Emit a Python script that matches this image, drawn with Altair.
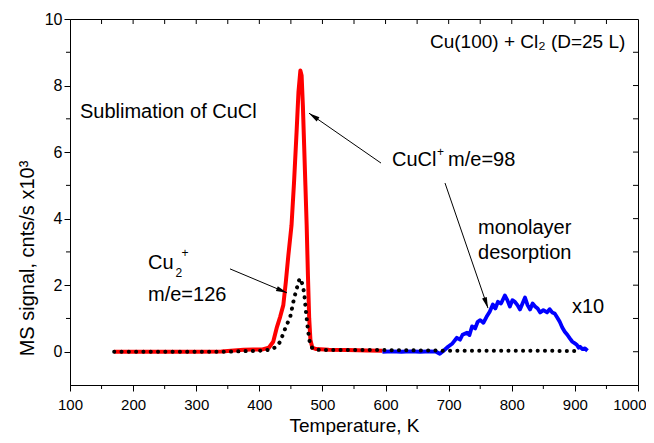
import math
import altair as alt
import pandas as pd

# ---------------- data ----------------
# CuCl+ m/e=98 (red)
red_T = [170, 200, 250, 300, 340, 360, 375, 390, 405, 415,
         422, 428, 433, 438, 442, 446, 451, 455, 459, 462,
         465, 467, 469, 471, 473, 475, 477, 479, 481, 484,
         490, 510, 540, 570, 595]
red_v = [0.0, 0.0, 0.0, 0.0, 0.01, 0.04, 0.06, 0.07, 0.07, 0.12,
         0.3, 0.75, 1.05, 1.4, 2.1, 2.9, 3.8, 5.1, 6.6, 7.8,
         8.45, 8.3, 7.4, 6.2, 5.0, 3.8, 2.3, 1.0, 0.35, 0.12,
         0.08, 0.06, 0.05, 0.04, 0.03]

# Cu2+ m/e=126 (black dotted)
blk_T = [170, 200, 250, 300, 350, 380, 400, 412, 420, 427,
         433, 441, 449, 455, 460, 463, 466, 469, 471, 474,
         477, 480, 484, 490, 500, 530, 560, 600, 650, 700,
         750, 800, 850, 900]
blk_v = [0.0, 0.0, 0.0, 0.0, 0.0, 0.02, 0.03, 0.05, 0.08, 0.15,
         0.3, 0.7, 1.05, 1.6, 1.95, 2.15, 2.2, 1.95, 1.78, 1.18,
         0.66, 0.27, 0.1, 0.06, 0.05, 0.05, 0.05, 0.05, 0.04, 0.03,
         0.03, 0.03, 0.03, 0.02]

# monolayer desorption x10 (blue)
blue_T = [595, 610, 625, 640, 655, 670, 680, 686, 692, 699,
          706, 713, 718, 722, 729, 733, 737, 742, 746, 750,
          755, 760, 765, 770, 774, 778, 783, 789, 793, 797,
          801, 805, 809, 813, 817, 821, 825, 829, 833, 837,
          841, 845, 850, 856, 860, 864, 868, 872, 876, 880,
          884, 888, 892, 896, 900, 903, 906, 908, 912, 916,
          920]
blue_v = [0.0, 0.01, 0.0, 0.01, 0.0, 0.01, 0.0, -0.06, 0.03, 0.15,
          0.25, 0.42, 0.36, 0.51, 0.57, 0.5, 0.76, 0.7, 0.9, 0.95,
          0.87, 1.05, 1.2, 1.42, 1.3, 1.5, 1.45, 1.69, 1.55, 1.36,
          1.55, 1.5, 1.4, 1.27, 1.45, 1.63, 1.4, 1.27, 1.45, 1.36,
          1.3, 1.18, 1.25, 1.18, 1.28, 1.18, 1.15, 1.03, 0.9, 0.73,
          0.6, 0.51, 0.4, 0.3, 0.25, 0.21, 0.12, 0.15, 0.08, 0.1,
          0.03]

# axis ticks
x_major = list(range(100, 1001, 100))
x_minor = list(range(150, 1000, 100))
x_mirror = list(range(150, 1000, 50))
y_major = [0, 2, 4, 6, 8, 10]
y_minor = [1, 3, 5, 7, 9]
y_mirror = list(range(0, 10))

# annotation texts (data coordinates)
ann_label = ["Sublimation of CuCl", "Cu(100) + Cl\u2082 (D=25 L)", "CuCl", "+", "m/e=98",
             "Cu", "2", "+", "m/e=126", "monolayer", "desorption", "x10"]
ann_T = [115.8, 670.4, 610.2, 681.5, 699.0, 223.6, 267.0, 276.5, 223.6, 746.5, 746.5, 895.4]
ann_v = [7.20, 9.31, 5.76, 6.01, 5.76, 2.67, 2.36, 2.97, 1.70, 3.72, 2.97, 1.34]
ann_fs = [20, 19, 20, 12, 20, 20, 12, 12, 20, 20, 20, 20]

# arrows: start -> tip
arr_T1 = [592.8, 353.5, 694.2]
arr_v1 = [5.67, 2.49, 5.07]
arr_T2 = [478.7, 443.8, 762.3]
arr_v2 = [7.17, 1.77, 1.31]

# ---------------- chart ----------------
W, H = 568, 366
XD, YD = [100, 1000], [-1, 10]
FONT = "Liberation Sans"

xs = alt.Scale(domain=XD, nice=False, zero=False)
ys = alt.Scale(domain=YD, nice=False, zero=False)

x_axis = alt.Axis(values=x_major, format="d", tickSize=6, tickColor="black",
                  domainColor="black", labelFontSize=15, labelPadding=6,
                  labelFont=FONT, labelColor="black", labelFlush=False,
                  labelOverlap=False, grid=False,
                  labelAlign={"condition": {"test": "datum.value == 1000", "value": "right"},
                              "value": "center"},
                  labelOffset={"condition": {"test": "datum.value == 1000", "value": 8},
                               "value": 0},
                  title="Temperature, K", titleFont=FONT, titleFontSize=19,
                  titleFontWeight="normal", titleColor="black",
                  titleX=W / 2, titleY=46, titleAlign="center",
                  titleBaseline="alphabetic")
y_axis = alt.Axis(values=y_major, format="d", tickSize=6, tickColor="black",
                  domainColor="black", labelFontSize=16, labelPadding=2,
                  labelFont=FONT, labelColor="black", labelOverlap=False,
                  grid=False,
                  title="MS signal, cnts/s x10\u00b3", titleFont=FONT,
                  titleFontSize=20, titleFontWeight="normal", titleColor="black",
                  titleX=-43, titleY=239, titleAngle=270, titleAlign="center",
                  titleBaseline="middle")


def X(field):
    return alt.X(field, scale=xs, axis=x_axis)


def Y(field):
    return alt.Y(field, scale=ys, axis=y_axis)


df_red = pd.DataFrame({"T": red_T, "v": red_v})
df_blk = pd.DataFrame({"T": blk_T, "v": blk_v})
df_blue = pd.DataFrame({"T": blue_T, "v": blue_v})

red = alt.Chart(df_red).mark_line(color="#ff0000", strokeWidth=4, strokeJoin="round").encode(
    x=X("T:Q"), y=Y("v:Q"))
blue = alt.Chart(df_blue).mark_line(color="#0000ff", strokeWidth=3.8, strokeJoin="round").encode(
    x=X("T:Q"), y=Y("v:Q"))
blk = alt.Chart(df_blk).mark_line(color="black", strokeWidth=4, strokeDash=[0.1, 7.2],
                                  strokeCap="round").encode(x=X("T:Q"), y=Y("v:Q"))

# arrows
angs = []
for a, b, c, d in zip(arr_T1, arr_v1, arr_T2, arr_v2):
    dx = (c - a) * W / (XD[1] - XD[0])
    dy = -(d - b) * H / (YD[1] - YD[0])
    angs.append(math.degrees(math.atan2(dx, -dy)) % 360)
df_arr = pd.DataFrame({"T": arr_T1, "v": arr_v1, "T2": arr_T2, "v2": arr_v2, "ang": angs})

arrows = alt.Chart(df_arr).mark_rule(color="black", strokeWidth=1).encode(
    x=X("T:Q"), y=Y("v:Q"), x2="T2:Q", y2="v2:Q")
heads = alt.Chart(df_arr).mark_point(
    shape="M0,0L-0.5,2.2L0.5,2.2Z", filled=True, color="black", size=100, opacity=1).encode(
    x=X("T2:Q"), y=Y("v2:Q"), angle=alt.Angle("ang:Q", scale=None))

df_ann = pd.DataFrame({"T": ann_T, "v": ann_v, "label": ann_label, "fs": ann_fs})
texts = alt.Chart(df_ann).mark_text(align="left", baseline="middle", font=FONT,
                                    color="black").encode(
    x=X("T:Q"), y=Y("v:Q"), text="label:N", size=alt.Size("fs:Q", scale=None))

# minor and mirror ticks
tick_b = alt.Chart(pd.DataFrame({"T": x_minor})).mark_rule(color="black", strokeWidth=1).encode(
    x=X("T:Q"), y=alt.value(H), y2=alt.value(H + 4))
tick_t = alt.Chart(pd.DataFrame({"T": x_mirror})).mark_rule(color="black", strokeWidth=1).encode(
    x=X("T:Q"), y=alt.value(0), y2=alt.value(5))
tick_l = alt.Chart(pd.DataFrame({"v": y_minor})).mark_rule(color="black", strokeWidth=1).encode(
    y=Y("v:Q"), x=alt.value(0), x2=alt.value(-4))
tick_r = alt.Chart(pd.DataFrame({"v": y_mirror})).mark_rule(color="black", strokeWidth=1).encode(
    y=Y("v:Q"), x=alt.value(W), x2=alt.value(W - 5))

chart = alt.layer(red, blue, blk, arrows, heads, texts, tick_b, tick_t, tick_l, tick_r).properties(
    width=W, height=H,
    padding={"left": 62, "top": 11, "right": 8, "bottom": 50},
    autosize=alt.AutoSizeParams(type="none"),
    background="white",
).configure_view(stroke="black", strokeWidth=1)

chart.save("out.html", embed_options={"renderer": "svg", "actions": False})
